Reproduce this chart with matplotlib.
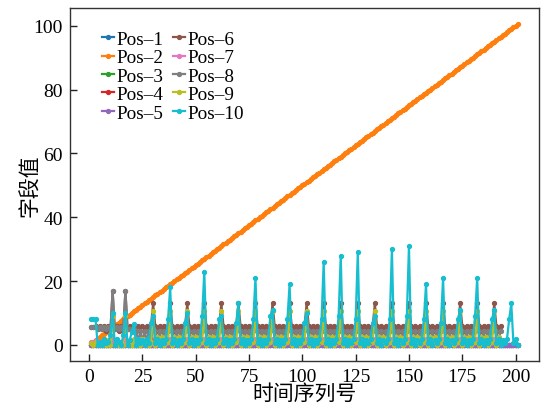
import matplotlib
matplotlib.use("Agg")
import matplotlib.pyplot as plt
import numpy as np

plt.rcParams['font.family'] = ['Liberation Serif', 'Noto Sans CJK SC', 'DejaVu Sans']
plt.rcParams['axes.unicode_minus'] = False

labels = ["Pos–1", "Pos–2", "Pos–3", "Pos–4", "Pos–5",
          "Pos–6", "Pos–7", "Pos–8", "Pos–9", "Pos–10"]

x_label = "时间序列号"
y_label = "字段值"
x_ticks = [0, 25, 50, 75, 100, 125, 150, 175, 200]
y_ticks = [0, 20, 40, 60, 80, 100]

pos1 = [0, 0, 0, 0, 0,
        0, 0, 0, 0, 0, 0, 0, 0,
        0, 0, 0, 0, 0, 0, 0, 0,
        0, 0, 0, 0, 0, 0, 0, 0,
        0, 0, 0, 0, 0, 0, 0, 0,
        0, 0, 0, 0, 0, 0, 0, 0,
        0, 0, 0, 0, 0, 0, 0, 0,
        0, 0, 0, 0, 0, 0, 0, 0,
        0, 0, 0, 0, 0, 0, 0, 0,
        0, 0, 0, 0, 0, 0, 0, 0,
        0, 0, 0, 0, 0, 0, 0, 0,
        0, 0, 0, 0, 0, 0, 0, 0,
        0, 0, 0, 0, 0, 0, 0, 0,
        0, 0, 0, 0, 0, 0, 0, 0,
        0, 0, 0, 0, 0, 0, 0, 0,
        0, 0, 0, 0, 0, 0, 0, 0,
        0, 0, 0, 0, 0, 0, 0, 0,
        0, 0, 0, 0, 0, 0, 0, 0,
        0, 0, 0, 0, 0, 0, 0, 0,
        0, 0, 0, 0, 0, 0, 0, 0,
        0, 0, 0, 0, 0, 0, 0, 0,
        0, 0, 0, 0, 0, 0, 0, 0,
        0, 0, 0, 0, 0, 0, 0, 0,
        0, 0, 0, 0, 0, 0, 0, 0,
        0, 0, 0, 0, 0, 0, 0, 0,
        0, 0, 0, 0]

pos2 = [0.5, 1, 1.5, 2, 2.5,
        3, 3.5, 4, 4.5, 5, 5.5, 6, 6.5,
        7, 7.5, 8, 8.5, 9, 9.5, 10, 10.5,
        11, 11.5, 12, 12.5, 13, 13.5, 14, 14.5,
        15, 15.5, 16, 16.5, 17, 17.5, 18, 18.5,
        19, 19.5, 20, 20.5, 21, 21.5, 22, 22.5,
        23, 23.5, 24, 24.5, 25, 25.5, 26, 26.5,
        27, 27.5, 28, 28.5, 29, 29.5, 30, 30.5,
        31, 31.5, 32, 32.5, 33, 33.5, 34, 34.5,
        35, 35.5, 36, 36.5, 37, 37.5, 38, 38.5,
        39, 39.5, 40, 40.5, 41, 41.5, 42, 42.5,
        43, 43.5, 44, 44.5, 45, 45.5, 46, 46.5,
        47, 47.5, 48, 48.5, 49, 49.5, 50, 50.5,
        51, 51.5, 52, 52.5, 53, 53.5, 54, 54.5,
        55, 55.5, 56, 56.5, 57, 57.5, 58, 58.5,
        59, 59.5, 60, 60.5, 61, 61.5, 62, 62.5,
        63, 63.5, 64, 64.5, 65, 65.5, 66, 66.5,
        67, 67.5, 68, 68.5, 69, 69.5, 70, 70.5,
        71, 71.5, 72, 72.5, 73, 73.5, 74, 74.5,
        75, 75.5, 76, 76.5, 77, 77.5, 78, 78.5,
        79, 79.5, 80, 80.5, 81, 81.5, 82, 82.5,
        83, 83.5, 84, 84.5, 85, 85.5, 86, 86.5,
        87, 87.5, 88, 88.5, 89, 89.5, 90, 90.5,
        91, 91.5, 92, 92.5, 93, 93.5, 94, 94.5,
        95, 95.5, 96, 96.5, 97, 97.5, 98, 98.5,
        99, 99.5, 100, 100.5]

pos3 = list(pos1)
pos4 = list(pos1)
pos5 = list(pos1)

pos6 = [5.5, 5.5, 6, 5, 6,
        5, 6, 4.5, 6, 5, 17, 5, 6,
        4.5, 6, 4.5, 17, 5, 6, 4.5, 6,
        4.5, 6, 4.5, 6, 4.5, 6, 4.5, 6,
        13, 6, 4.5, 6, 4.5, 6, 4.5, 6,
        13, 6, 4.5, 6, 4.5, 6, 4.5, 6,
        13, 6, 4.5, 6, 4.5, 6, 4.5, 6,
        13, 6, 4.5, 6, 4.5, 6, 4.5, 6,
        13, 6, 4.5, 6, 4.5, 6, 4.5, 6,
        13, 6, 4.5, 6, 4.5, 6, 4.5, 6,
        13, 6, 4.5, 6, 4.5, 6, 4.5, 6,
        13, 6, 4.5, 6, 4.5, 6, 4.5, 6,
        13, 6, 4.5, 6, 4.5, 6, 4.5, 6,
        13, 6, 4.5, 6, 4.5, 6, 4.5, 6,
        13, 6, 4.5, 6, 4.5, 6, 4.5, 6,
        13, 6, 4.5, 6, 4.5, 6, 4.5, 6,
        13, 6, 4.5, 6, 4.5, 6, 4.5, 6,
        13, 6, 4.5, 6, 4.5, 6, 4.5, 6,
        13, 6, 4.5, 6, 4.5, 6, 4.5, 6,
        13, 6, 4.5, 6, 4.5, 6, 4.5, 6,
        13, 6, 4.5, 6, 4.5, 6, 4.5, 6,
        13, 6, 4.5, 6, 4.5, 6, 4.5, 6,
        13, 6, 4.5, 6, 4.5, 6, 4.5, 6,
        13, 6, 4.5, 6, 4.5, 6, 4.5, 6,
        13, 6, 4.5, 6]

pos7 = [1, 1, 1.5, 1, 0.5,
        1, 0.5, 1, 0.5, 1, 2, 1, 0.5,
        1, 0.5, 1, 2, 1, 0.5, 1, 0.5,
        1, 0.5, 1, 0.5, 1, 0.5, 1, 0.5,
        2, 1, 0.5, 1, 0.5, 1, 0.5, 1,
        2, 1, 0.5, 1, 0.5, 1, 0.5, 1,
        2, 1, 0.5, 1, 0.5, 1, 0.5, 1,
        2, 1, 0.5, 1, 0.5, 1, 0.5, 1,
        2, 1, 0.5, 1, 0.5, 1, 0.5, 1,
        2, 1, 0.5, 1, 0.5, 1, 0.5, 1,
        2, 1, 0.5, 1, 0.5, 1, 0.5, 1,
        2, 1, 0.5, 1, 0.5, 1, 0.5, 1,
        2, 1, 0.5, 1, 0.5, 1, 0.5, 1,
        2, 1, 0.5, 1, 0.5, 1, 0.5, 1,
        2, 1, 0.5, 1, 0.5, 1, 0.5, 1,
        2, 1, 0.5, 1, 0.5, 1, 0.5, 1,
        2, 1, 0.5, 1, 0.5, 1, 0.5, 1,
        2, 1, 0.5, 1, 0.5, 1, 0.5, 1,
        2, 1, 0.5, 1, 0.5, 1, 0.5, 1,
        2, 1, 0.5, 1, 0.5, 1, 0.5, 1,
        2, 1, 0.5, 1, 0.5, 1, 0.5, 1,
        2, 1, 0.5, 1, 0.5, 1, 0.5, 1,
        2, 1, 0.5, 1, 0.5, 1, 0.5, 1,
        2, 1, 0.5, 1, 0.5, 1, 0.5, 1,
        2, 1, 0.5, 1]

pos8 = [5.5, 5.5, 5.5, 5, 5.5,
        5, 5.5, 5, 5.5, 5, 17, 5, 5.5,
        5, 5.5, 5, 17, 5, 5, 4.5, 5,
        4.5, 1, 4.5, 1, 4.5, 1, 4.5, 1.5,
        5, 4.5, 1, 4.5, 1, 4.5, 1, 4.5,
        5, 4.5, 1, 4.5, 1, 4.5, 1, 4.5,
        5, 4.5, 1, 4.5, 1, 4.5, 1, 4.5,
        5, 4.5, 1, 4.5, 1, 4.5, 1, 4.5,
        5, 4.5, 1, 4.5, 1, 4.5, 1, 4.5,
        5, 4.5, 1, 4.5, 1, 4.5, 1, 4.5,
        5, 4.5, 1, 4.5, 1, 4.5, 1, 4.5,
        5, 4.5, 1, 4.5, 1, 4.5, 1, 4.5,
        5, 4.5, 1, 4.5, 1, 4.5, 1, 4.5,
        5, 4.5, 1, 4.5, 1, 4.5, 1, 4.5,
        5, 4.5, 1, 4.5, 1, 4.5, 1, 4.5,
        5, 4.5, 1, 4.5, 1, 4.5, 1, 4.5,
        5, 4.5, 1, 4.5, 1, 4.5, 1, 4.5,
        5, 4.5, 1, 4.5, 1, 4.5, 1, 4.5,
        5, 4.5, 1, 4.5, 1, 4.5, 1, 4.5,
        5, 4.5, 1, 4.5, 1, 4.5, 1, 4.5,
        5, 4.5, 1, 4.5, 1, 4.5, 1, 4.5,
        5, 4.5, 1, 4.5, 1, 4.5, 1, 4.5,
        5, 4.5, 1, 4.5, 1, 4.5, 1, 4.5,
        5, 4.5, 1, 4.5, 1, 4.5, 1, 4.5,
        5, 4.5, 1, 4.5]

pos9 = [0.5, 0, 1, 0, 0.5,
        0, 2, 0, 1.5, 0, 9, 0, 1.5,
        0, 1, 0, 9, 0, 1.5, 0, 2,
        0, 1.5, 0, 2, 0, 2, 0, 1,
        10.5, 0, 2.5, 0.5, 2.5, 0, 2.5, 1,
        10.5, 0, 2.5, 0.5, 2.5, 0, 2.5, 1,
        10.5, 0, 2.5, 0.5, 2.5, 0, 2.5, 1,
        10.5, 0, 2.5, 0.5, 2.5, 0, 2.5, 1,
        10.5, 0, 2.5, 0.5, 2.5, 0, 2.5, 1,
        10.5, 0, 2.5, 0.5, 2.5, 0, 2.5, 1,
        10.5, 0, 2.5, 0.5, 2.5, 0, 2.5, 1,
        10.5, 0, 2.5, 0.5, 2.5, 0, 2.5, 1,
        10.5, 0, 2.5, 0.5, 2.5, 0, 2.5, 1,
        10.5, 0, 2.5, 0.5, 2.5, 0, 2.5, 1,
        10.5, 0, 2.5, 0.5, 2.5, 0, 2.5, 1,
        10.5, 0, 2.5, 0.5, 2.5, 0, 2.5, 1,
        10.5, 0, 2.5, 0.5, 2.5, 0, 2.5, 1,
        10.5, 0, 2.5, 0.5, 2.5, 0, 2.5, 1,
        10.5, 0, 2.5, 0.5, 2.5, 0, 2.5, 1,
        10.5, 0, 2.5, 0.5, 2.5, 0, 2.5, 1,
        10.5, 0, 2.5, 0.5, 2.5, 0, 2.5, 1,
        10.5, 0, 2.5, 0.5, 2.5, 0, 2.5, 1,
        10.5, 0, 2.5, 0.5, 2.5, 0, 2.5, 1,
        10.5, 0, 2.5, 0.5, 2.5, 0, 2.5, 1,
        10.5, 0, 2.5, 0.5]

pos10 = [8, 8, 8, 0, 1,
         0, 2, 0.5, 1, 3, 10, 0, 2,
         1, 0, 3, 10, 0, 1.5, 4, 6.5,
         0, 2, 0.5, 1.5, 0, 2, 0.5, 7,
         9, 0.5, 2, 0, 1.5, 0.5, 2, 8,
         18, 0.5, 2, 0, 1.5, 0.5, 2, 7,
         10, 0.5, 2, 0, 1.5, 0.5, 2, 9,
         23, 0.5, 2, 0, 1.5, 0.5, 2, 8,
         9, 0.5, 2, 0, 1.5, 0.5, 2, 7,
         13, 0.5, 2, 0, 1.5, 0.5, 2, 8,
         21, 0.5, 2, 0, 1.5, 0.5, 2, 9,
         11, 0.5, 2, 0, 1.5, 0.5, 2, 8,
         19, 0.5, 2, 0, 1.5, 0.5, 2, 7,
         10, 0.5, 2, 0, 1.5, 0.5, 2, 8,
         26, 0.5, 2, 0, 1.5, 0.5, 2, 9,
         28, 0.5, 2, 0, 1.5, 0.5, 2, 8,
         29, 0.5, 2, 0, 1.5, 0.5, 2, 7,
         9, 0.5, 2, 0, 1.5, 0.5, 2, 8,
         30, 0.5, 2, 0, 1.5, 0.5, 2, 9,
         31, 0.5, 2, 0, 1.5, 0.5, 2, 8,
         19, 0.5, 2, 0, 1.5, 0.5, 2, 7,
         21, 0.5, 2, 0, 1.5, 0.5, 2, 8,
         11, 0.5, 2, 0, 1.5, 0.5, 2, 9,
         21, 0.5, 2, 0, 1.5, 0.5, 2, 8,
         11, 0.5, 2, 0, 1.5, 0.5, 2, 8,
         13, 0.5, 2, 0]

series = [pos1, pos2, pos3, pos4, pos5, pos6, pos7, pos8, pos9, pos10]
colors = ['#1f77b4', '#ff7f0e', '#2ca02c', '#d62728', '#9467bd',
          '#8c564b', '#e377c2', '#7f7f7f', '#bcbd22', '#17becf']

fig = plt.figure(figsize=(5.48, 4.06), dpi=100)
ax = fig.add_axes([0.1277, 0.1084, 0.8559, 0.8694])

for vals, lab, col in zip(series, labels, colors):
    xs = np.arange(1, len(vals) + 1)
    ax.plot(xs, vals, color=col, lw=1.6, marker='o', ms=2.8, label=lab)

ax.set_xticks(x_ticks)
ax.set_yticks(y_ticks)
ax.tick_params(direction='in', length=5, width=1, labelsize=14,
               top=False, right=False, pad=5, colors='#222222', labelcolor='black')
for sp in ax.spines.values():
    sp.set_color('#333333')
    sp.set_linewidth(1.0)

ax.set_xlabel(x_label, fontsize=15, labelpad=-1)
ax.set_ylabel(y_label, fontsize=15)
ax.yaxis.set_label_coords(-0.062, 0.5)

leg = ax.legend(ncol=2, loc='upper left', bbox_to_anchor=(0.0676, 0.936),
                frameon=False, fontsize=13.8, handlelength=0.65,
                handletextpad=0.12, columnspacing=0.5, labelspacing=0.05,
                borderaxespad=0, borderpad=0, markerscale=1.0)

fig.savefig('out.png', dpi=100)
